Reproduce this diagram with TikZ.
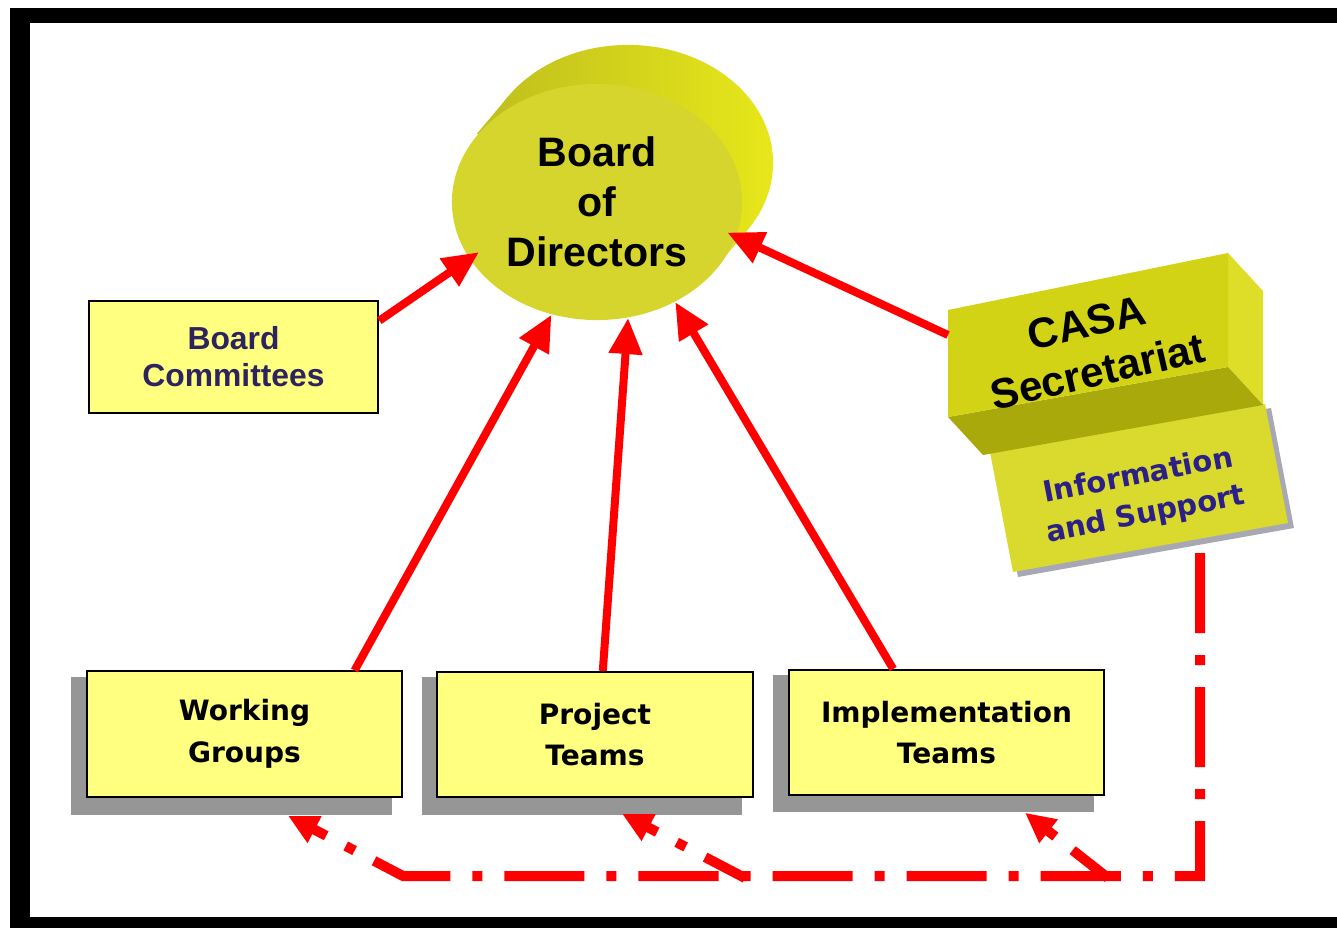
\documentclass[tikz,border=0pt]{standalone}
\usepackage{fontspec}
\setmainfont{Liberation Sans}
\newfontfamily\dejavu{DejaVu Sans}
\usetikzlibrary{arrows.meta,shapes.geometric,calc}
\definecolor{boxyellow}{HTML}{FFFF80}
\definecolor{navytext}{HTML}{2D235F}
\definecolor{infotext}{HTML}{2B2088}
\definecolor{shadowgray}{HTML}{969696}
\definecolor{boardfront}{HTML}{D5D52E}
\definecolor{boardL}{HTML}{BDBD1E}
\definecolor{boardR}{HTML}{E8E81A}
\definecolor{casafront}{HTML}{D3D316}
\definecolor{casaside}{HTML}{DEDE28}
\definecolor{casabottom}{HTML}{A9A90C}
\definecolor{infofill}{HTML}{D9D92E}
\definecolor{infoshadow}{HTML}{A8A8B4}
\begin{document}
\begin{tikzpicture}[x=0.01cm,y=-0.01cm,
  ybox/.style={draw=black, line width=0.02cm, fill=boxyellow, inner sep=0pt, align=center},
  bottombox/.style={ybox, minimum width=3.15cm, minimum height=1.25cm, font=\dejavu\bfseries\fontsize{7.97}{11.9}\selectfont},
  shadowbox/.style={fill=shadowgray, inner sep=0pt, minimum width=3.21cm, minimum height=1.38cm},
  redarrow/.style={draw=red, line width=0.08cm, -{Triangle[length=0.36cm,width=0.32cm]}},
  dashline/.style={draw=red, line width=0.1cm, dash pattern=on 0.8cm off 0.22cm on 0.1cm off 0.22cm, -{Triangle[length=0.3cm,width=0.28cm]}},
]
\useasboundingbox (0,0) rectangle (1337,928);
\fill[white] (0,0) rectangle (1337,928);
% frame
\fill[black] (10,8) rectangle (1337,23);
\fill[black] (10,8) rectangle (30,928);
\fill[black] (10,917) rectangle (1337,928);

% Board of Directors (3D disc)
\begin{scope}
  \clip (716.8,266.5) -- (747.8,229.5) -- (508.2,96.5) -- (477.2,133.5) -- cycle;
  \shade[left color=boardL, right color=boardR] (470,35) rectangle (780,330);
\end{scope}
\begin{scope}
  \clip (628,163) ellipse [x radius=1.45cm, y radius=1.18cm];
  \shade[left color=boardL, right color=boardR] (470,35) rectangle (780,330);
\end{scope}
\node[ellipse, minimum width=2.9cm, minimum height=2.36cm, inner sep=0pt, fill=boardfront,
      font=\bfseries\fontsize{11.7}{14.2}\selectfont, align=center] (board) at (597,202) {Board\\of\\Directors};

% Board Committees
\node[ybox, line width=0.025cm, minimum width=2.89cm, minimum height=1.12cm, text=navytext,
      font=\bfseries\fontsize{9.05}{10.5}\selectfont] (bc) at (233.5,357) {Board\\Committees};

% bottom boxes with shadows
\node[shadowbox] (wgs) at (231.5,746) {};
\node[shadowbox, minimum width=3.20cm] (pts) at (582,746) {};
\node[shadowbox, minimum height=1.37cm] (its) at (933.5,743.5) {};
\node[bottombox] (wg) at (244.5,734) {Working\\Groups};
\node[bottombox] (pt) at (595,734.5) {Project\\Teams};
\node[bottombox] (it) at (946.5,732.5) {Implementation\\Teams};

% Information and Support panel
\fill[infoshadow] (995,457) -- (1271,408) -- (1294,528) -- (1018,577) -- cycle;
\fill[infofill] (990,452) -- (1265,404) -- (1288,523) -- (1013,572) -- cycle;
\node[rotate=11, text=infotext, font=\dejavu\bfseries\fontsize{8.25}{11.2}\selectfont, align=center]
  (info) at (1142,496) {Information\\and Support};

% CASA Secretariat box
\fill[casaside] (1228,253) -- (1263,291) -- (1263,405) -- (1228,367) -- cycle;
\fill[casabottom] (948,417) -- (1228,367) -- (1263,405) -- (983,455) -- cycle;
\fill[casafront] (948,310) -- (1228,253) -- (1228,367) -- (948,417) -- cycle;
\node[rotate=13, font=\bfseries\fontsize{12}{14.2}\selectfont, align=center] (casa) at (1092,347) {CASA\\Secretariat};
\coordinate (casaL) at (948,335);
\coordinate (infoB) at (1200,553);

% solid arrows to the board
\draw[redarrow, shorten >=-0.12cm] (bc.14) -- (board.204);
\draw[redarrow] (wg.30) -- (board.248.6);
\draw[redarrow] (pt.83) -- (board.285);
\draw[redarrow] (it.130) -- (board.308);
\draw[redarrow, shorten >=-0.1cm] (casaL) -- (board.346);

% dash-dot feedback lines
\coordinate (corner) at (1200,876);
\coordinate (j1) at (403,876);
\coordinate (j2) at (745,878);
\coordinate (j3) at (1108,878);
\draw[dashline] (infoB) -- (corner) -- (j1) -- ($(wgs.south)+(56.5,0)$);
\draw[dashline, dash phase=0.35cm] (j2) -- ($(pts.south)+(40,-2)$);
\draw[dashline, dash phase=0.35cm] (j3) -- ($(its.south)+(91.5,0)$);
\end{tikzpicture}
\end{document}
